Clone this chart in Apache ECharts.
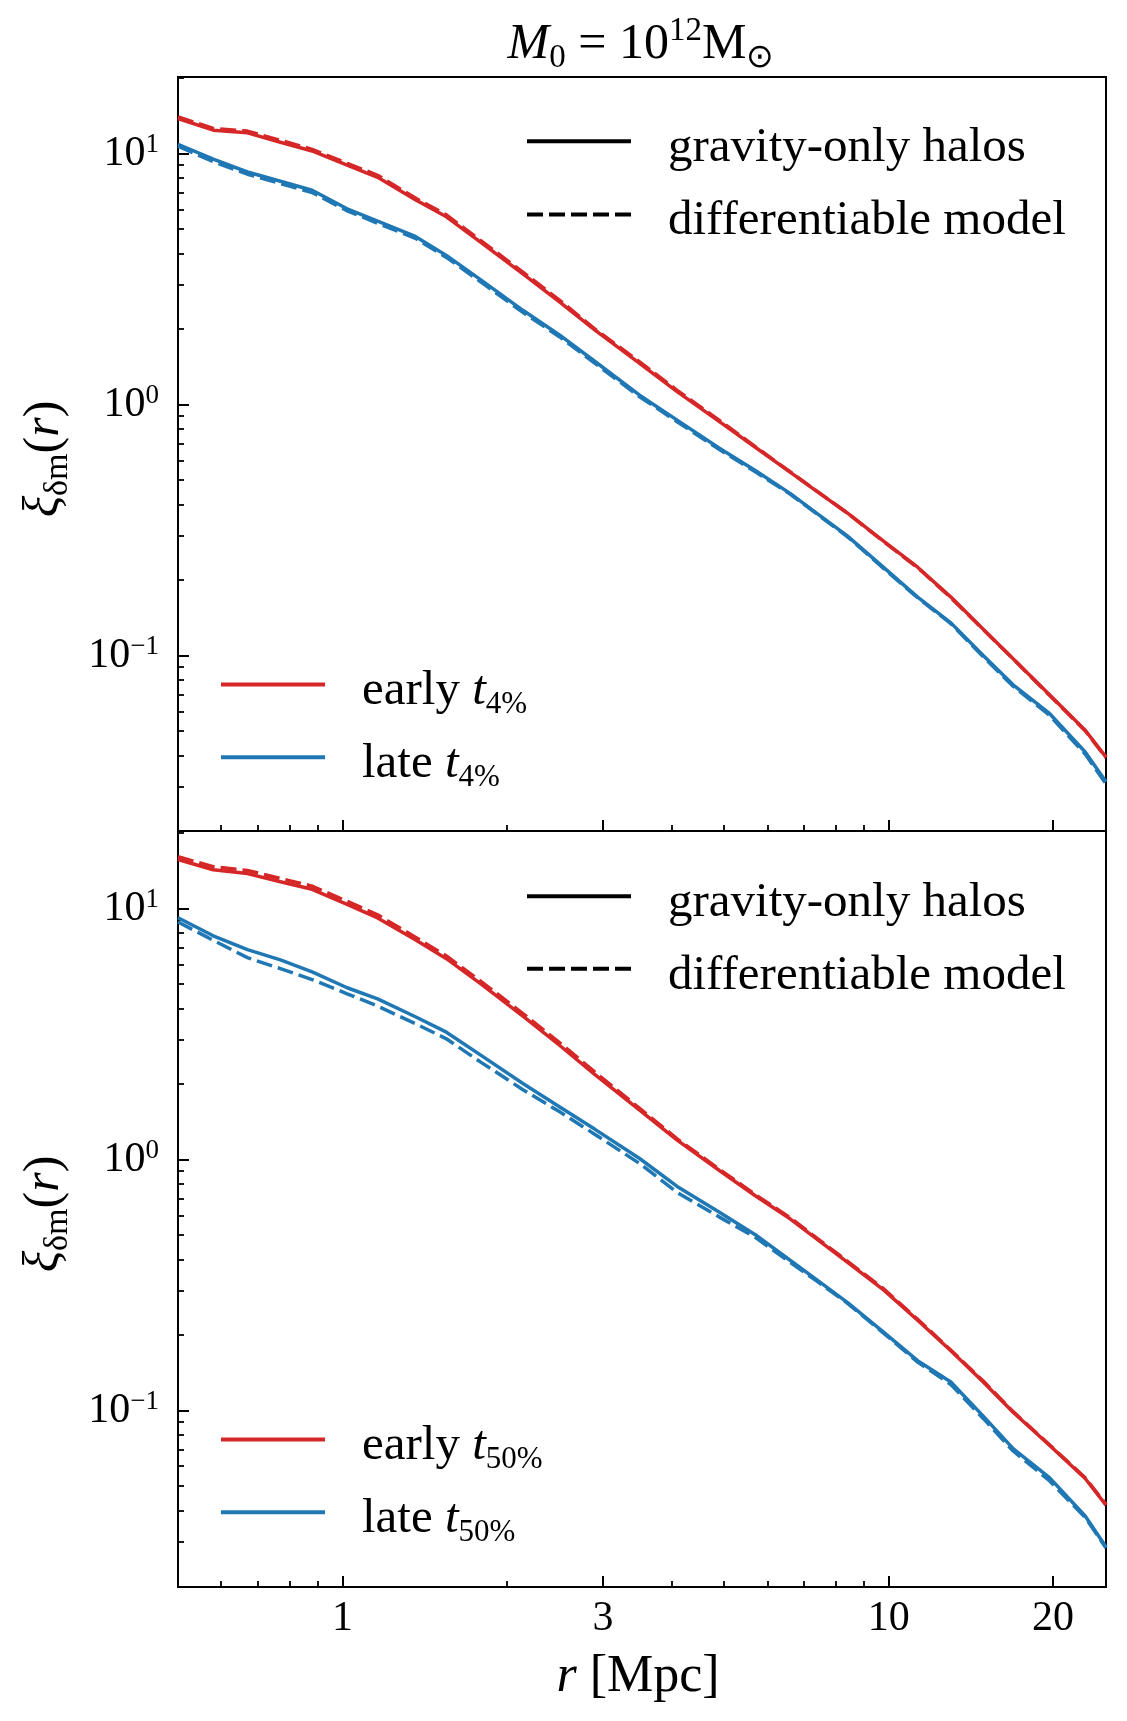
<!DOCTYPE html>
<html>
<head>
<meta charset="utf-8">
<script src="https://cdn.jsdelivr.net/npm/echarts@6/dist/echarts.min.js"></script>
<style>
  html, body { margin: 0; padding: 0; background: #fff; }
  #chart { width: 1127px; height: 1721px; }
</style>
</head>
<body>
<div id="chart"></div>
<script>
// r bins [Mpc]
const r = [0.5, 0.58, 0.67, 0.77, 0.88, 1.02, 1.16, 1.36, 1.55, 1.8, 2.14, 2.5, 2.9, 3.5,
  4.1, 4.9, 5.7, 6.6, 7.4, 8.4, 9.8, 11.3, 13.0, 14.9, 16.9, 19.7, 22.9, 25.0];

// top panel: split by t_4%
const earlyT4Halos = [13.8, 12.4, 12.1, 11.1, 10.25, 9.0, 8.05, 6.55, 5.6, 4.4, 3.32, 2.56, 1.98, 1.46,
  1.126, 0.855, 0.676, 0.538, 0.45, 0.37, 0.285, 0.225, 0.171, 0.1274, 0.0972, 0.0698, 0.0504, 0.0394];
const earlyT4Model = [14.0, 12.6, 12.3, 11.3, 10.4, 9.15, 8.2, 6.65, 5.7, 4.47, 3.37, 2.6, 2.0, 1.48,
  1.14, 0.865, 0.68, 0.54, 0.451, 0.37, 0.284, 0.224, 0.17, 0.127, 0.097, 0.0695, 0.0502, 0.0392];
const lateT4Halos = [10.9, 9.5, 8.45, 7.76, 7.15, 6.03, 5.38, 4.68, 3.93, 3.12, 2.375, 1.89, 1.485, 1.09,
  0.867, 0.67, 0.546, 0.443, 0.368, 0.3, 0.224, 0.171, 0.135, 0.1, 0.0765, 0.0588, 0.0413, 0.0314];
const lateT4Model = [10.7, 9.3, 8.28, 7.6, 7.0, 5.92, 5.28, 4.6, 3.86, 3.06, 2.33, 1.86, 1.46, 1.075,
  0.855, 0.662, 0.54, 0.44, 0.366, 0.298, 0.222, 0.17, 0.134, 0.099, 0.0755, 0.0578, 0.0405, 0.0308];

// bottom panel: split by t_50%
const earlyT50Halos = [15.7, 14.3, 13.8, 12.8, 11.95, 10.4, 9.19, 7.52, 6.32, 4.98, 3.73, 2.85, 2.18, 1.575,
  1.195, 0.905, 0.718, 0.581, 0.481, 0.39, 0.302, 0.229, 0.173, 0.13, 0.0985, 0.0727, 0.0536, 0.042];
const earlyT50Model = [16.1, 14.7, 14.2, 13.2, 12.3, 10.7, 9.45, 7.7, 6.48, 5.1, 3.82, 2.92, 2.23, 1.6,
  1.21, 0.915, 0.725, 0.587, 0.485, 0.394, 0.305, 0.231, 0.174, 0.131, 0.099, 0.073, 0.054, 0.0422];
const lateT50Halos = [9.2, 7.8, 6.87, 6.25, 5.6, 4.84, 4.37, 3.71, 3.22, 2.59, 2.01, 1.62, 1.32, 1.01,
  0.782, 0.617, 0.502, 0.397, 0.331, 0.27, 0.205, 0.158, 0.13, 0.095, 0.0705, 0.054, 0.038, 0.0286];
const lateT50Model = [8.85, 7.48, 6.38, 5.77, 5.22, 4.58, 4.09, 3.48, 3.03, 2.43, 1.9, 1.55, 1.26, 0.965,
  0.74, 0.59, 0.49, 0.39, 0.327, 0.268, 0.203, 0.156, 0.127, 0.093, 0.069, 0.0525, 0.0375, 0.0283];

// ticks
const xMajorTicks = [1, 3, 10, 20];
const xMinorTicks = [0.6, 0.7, 0.8, 0.9, 2, 4, 5, 6, 7, 8, 9];
const yMajorTicks = [0.1, 1, 10];
const yMinorTicks = [0.03, 0.04, 0.05, 0.06, 0.07, 0.08, 0.09, 0.2, 0.3, 0.4, 0.5, 0.6, 0.7, 0.8, 0.9,
  2, 3, 4, 5, 6, 7, 8, 9, 20];

const RED = '#d62728';
const BLUE = '#1f77b4';
const FONT = 'Liberation Serif';
const DASH = [16, 6];

const chart = echarts.init(document.getElementById('chart'));

function pairs(vals) {
  return r.map((x, i) => [x, vals[i]]);
}

function curve(name, axis, vals, color, dashed) {
  return {
    name: name,
    type: 'line',
    xAxisIndex: axis,
    yAxisIndex: axis,
    data: pairs(vals),
    symbol: 'none',
    showSymbol: false,
    color: color,
    itemStyle: { color: color },
    lineStyle: { color: color, width: 3.5, type: dashed ? DASH : 'solid' },
    z: dashed ? 3 : 2
  };
}

// x axes: major + minor per panel
function xAxes(gridIndex, showLabels) {
  return [
    {
      type: 'log', gridIndex: gridIndex, position: 'bottom', min: 0.5, max: 25,
      axisLine: { show: false }, splitLine: { show: false },
      axisTick: { show: true, inside: true, length: 11, customValues: xMajorTicks,
        lineStyle: { color: '#000', width: 2 } },
      axisLabel: { show: showLabels, customValues: xMajorTicks, margin: 11,
        formatter: v => String(Math.round(v)),
        fontFamily: FONT, fontSize: 42, lineHeight: 42, color: '#000' }
    },
    {
      type: 'log', gridIndex: gridIndex, position: 'bottom', min: 0.5, max: 25,
      axisLine: { show: false }, splitLine: { show: false },
      axisTick: { show: true, inside: true, length: 6, customValues: xMinorTicks,
        lineStyle: { color: '#000', width: 1.8 } },
      axisLabel: { show: false }
    }
  ];
}

function yAxes(gridIndex, lo, hi) {
  return [
    {
      type: 'log', gridIndex: gridIndex, position: 'left', min: lo, max: hi,
      axisLine: { show: false }, splitLine: { show: false },
      axisTick: { show: true, inside: true, length: 11, customValues: yMajorTicks,
        lineStyle: { color: '#000', width: 2 } },
      axisLabel: {
        show: true, customValues: yMajorTicks, margin: 19,
        formatter: v => {
          const e = Math.round(Math.log10(v));
          return '{b|10}{s|' + (e < 0 ? '\u2212' + (-e) : e) + '}';
        },
        rich: {
          b: { fontFamily: FONT, fontSize: 42, lineHeight: 44, color: '#000' },
          s: { fontFamily: FONT, fontSize: 27, lineHeight: 27, verticalAlign: 'top', color: '#000' }
        }
      }
    },
    {
      type: 'log', gridIndex: gridIndex, position: 'left', min: lo, max: hi,
      axisLine: { show: false }, splitLine: { show: false },
      axisTick: { show: true, inside: true, length: 6, customValues: yMinorTicks,
        lineStyle: { color: '#000', width: 1.8 } },
      axisLabel: { show: false }
    }
  ];
}

const legendRich = {
  n: { fontFamily: FONT, fontSize: 49, lineHeight: 58, color: '#000' },
  i: { fontFamily: FONT, fontSize: 49, lineHeight: 58, fontStyle: 'italic', color: '#000' },
  s: { fontFamily: FONT, fontSize: 31, lineHeight: 31, verticalAlign: 'bottom', color: '#000' }
};

function legendLabel(name) {
  const k = name.indexOf(' t_');
  if (k < 0) return '{n|' + name + '}';
  return '{n|' + name.slice(0, k) + ' }{i|t}{s|' + name.slice(k + 3) + '}';
}

const dashIcon = 'path://M0,0h16v4h-16z M22,0h16v4h-16z M44,0h16v4h-16z M66,0h16v4h-16z M88,0h16v4h-16z';

// one legend per entry, placed by the y of its line sample
const LEG_OFF = 18;
function legend(name, icon, left, lineY) {
  return {
    orient: 'vertical', left: left, top: lineY - LEG_OFF, padding: 0,
    itemWidth: 104, itemHeight: 4,
    selectedMode: false,
    data: [{ name: name, icon: icon }],
    formatter: legendLabel,
    textStyle: { padding: [14, 0, 0, 32], rich: legendRich }
  };
}

const option = {
  animation: false,
  backgroundColor: '#fff',
  grid: [
    { left: 178, top: 77, width: 928, height: 754, show: true, borderColor: '#000', borderWidth: 2 },
    { left: 178, top: 831, width: 928, height: 756, show: true, borderColor: '#000', borderWidth: 2 }
  ],
  xAxis: [...xAxes(0, false), ...xAxes(1, true)],
  yAxis: [...yAxes(0, 0.02, 20.2), ...yAxes(1, 0.0198, 20.4)],
  legend: [
    legend('gravity-only halos', 'rect', 527, 141.7),
    legend('differentiable model', dashIcon, 527, 215),
    legend('early t_4%', 'rect', 221, 685),
    legend('late t_4%', 'rect', 221, 757.7),
    legend('gravity-only halos', 'rect', 527, 896.7),
    legend('differentiable model', dashIcon, 527, 969.3),
    legend('early t_50%', 'rect', 221, 1440),
    legend('late t_50%', 'rect', 221, 1512.7)
  ],
  series: [
    // legend-only style keys
    { name: 'gravity-only halos', type: 'line', xAxisIndex: 0, yAxisIndex: 0, data: [],
      color: '#000', itemStyle: { color: '#000' }, lineStyle: { color: '#000', width: 3.5 } },
    { name: 'differentiable model', type: 'line', xAxisIndex: 0, yAxisIndex: 0, data: [],
      color: '#000', itemStyle: { color: '#000' }, lineStyle: { color: '#000', width: 3.5, type: DASH } },
    curve('early t_4%', 0, earlyT4Halos, RED, false),
    curve('early t_4% model', 0, earlyT4Model, RED, true),
    curve('late t_4%', 0, lateT4Halos, BLUE, false),
    curve('late t_4% model', 0, lateT4Model, BLUE, true),
    curve('early t_50%', 2, earlyT50Halos, RED, false),
    curve('early t_50% model', 2, earlyT50Model, RED, true),
    curve('late t_50%', 2, lateT50Halos, BLUE, false),
    curve('late t_50% model', 2, lateT50Model, BLUE, true)
  ],
  graphic: [
    {
      type: 'text', x: 641, y: 45,
      style: {
        text: '{i|M}{sb|0}{n| = 10}{sp|12}{n|M}{sb|\u2299}',
        align: 'center', verticalAlign: 'middle',
        rich: {
          i: { fontFamily: FONT, fontSize: 50, lineHeight: 60, fontStyle: 'italic', fill: '#000' },
          n: { fontFamily: FONT, fontSize: 50, lineHeight: 60, fill: '#000' },
          sp: { fontFamily: FONT, fontSize: 33, lineHeight: 34, verticalAlign: 'top', fill: '#000' },
          sb: { fontFamily: FONT, fontSize: 33, lineHeight: 33, verticalAlign: 'bottom', fill: '#000' }
        }
      }
    },
    {
      type: 'text', x: 638, y: 1677,
      style: {
        text: '{i|r}{n| [Mpc]}',
        align: 'center', verticalAlign: 'middle',
        rich: {
          i: { fontFamily: FONT, fontSize: 52, fontStyle: 'italic', fill: '#000' },
          n: { fontFamily: FONT, fontSize: 52, fill: '#000' }
        }
      }
    },
    ...[459, 1214].map(cy => ({
      type: 'text', x: 45, y: cy, rotation: Math.PI / 2,
      style: {
        text: '{i|\u03be}{sb|\u03b4m}{n|(}{i|r}{n|)}',
        align: 'center', verticalAlign: 'middle',
        rich: {
          i: { fontFamily: FONT, fontSize: 50, lineHeight: 60, fontStyle: 'italic', fill: '#000' },
          n: { fontFamily: FONT, fontSize: 50, lineHeight: 60, fill: '#000' },
          sb: { fontFamily: FONT, fontSize: 34, lineHeight: 34, verticalAlign: 'bottom', fill: '#000' }
        }
      }
    }))
  ]
};

chart.setOption(option);
</script>
</body>
</html>
